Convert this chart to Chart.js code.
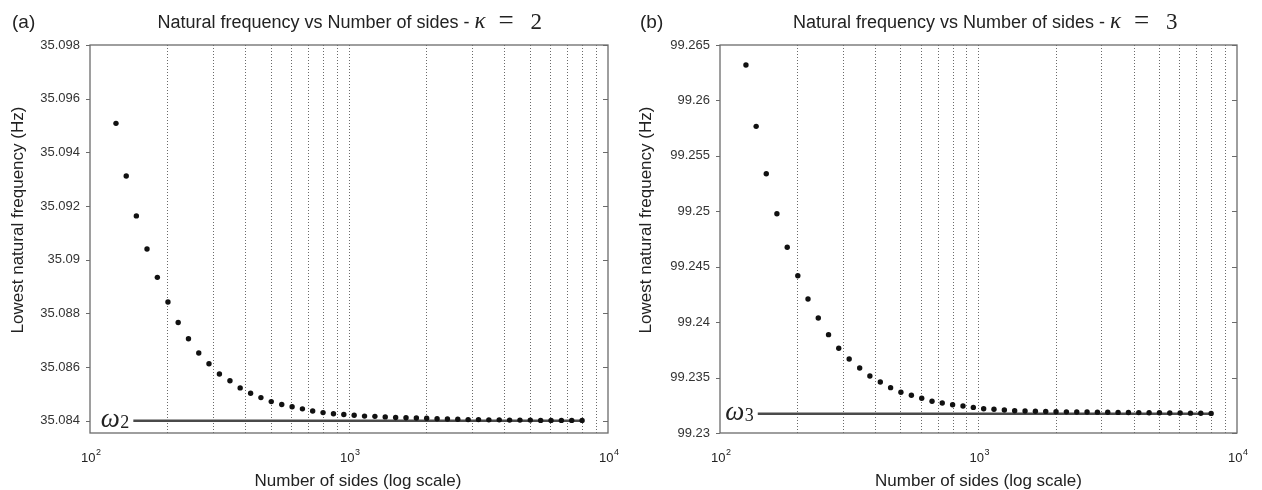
<!DOCTYPE html>
<html>
<head>
<meta charset="utf-8">
<script src="https://cdn.jsdelivr.net/npm/chart.js@4.4.1/dist/chart.umd.min.js"></script>
<style>
  html, body { margin: 0; padding: 0; background: #fff; }
  #wrap { position: relative; width: 1262px; height: 490px; }
  .panel { position: absolute; top: 0; width: 631px; height: 490px; }
</style>
</head>
<body>
<div id="wrap">
  <div class="panel" style="left:0"><canvas id="chartA" width="631" height="490"></canvas></div>
  <div class="panel" style="left:631px"><canvas id="chartB" width="631" height="490"></canvas></div>
</div>
<script>
// number of sides of the polygon (log-spaced runs)
const sides = [126, 138, 151, 166, 182, 200, 219, 240, 263, 288,
  316, 347, 380, 417, 457, 501, 550, 603, 661, 724,
  794, 871, 955, 1047, 1148, 1259, 1380, 1514, 1660, 1820,
  1995, 2188, 2399, 2630, 2884, 3162, 3467, 3802, 4169, 4571,
  5012, 5495, 6026, 6607, 7244, 7943];

// lowest natural frequency (Hz), kappa = 2
const freqK2 = [35.09508, 35.09312, 35.09163, 35.0904, 35.08934, 35.08842, 35.08766, 35.08705, 35.08652, 35.08612,
  35.08574, 35.08549, 35.08522, 35.08502, 35.08486, 35.08471, 35.0846, 35.08452, 35.08444, 35.08436,
  35.0843, 35.08426, 35.08423, 35.0842, 35.08417, 35.08416, 35.08414, 35.08412, 35.08411, 35.0841,
  35.08409, 35.08407, 35.08406, 35.08405, 35.08404, 35.08404, 35.08403, 35.08403, 35.08402, 35.08402,
  35.08402, 35.08401, 35.08401, 35.08401, 35.08401, 35.08401];

// lowest natural frequency (Hz), kappa = 3
const freqK3 = [99.26319, 99.25766, 99.25339, 99.24978, 99.24675, 99.24419, 99.24209, 99.24037, 99.23887, 99.23764,
  99.23668, 99.23586, 99.23514, 99.2346, 99.23409, 99.23367, 99.2334, 99.23313, 99.23286, 99.23271,
  99.23255, 99.23244, 99.23231, 99.23219, 99.23214, 99.23207, 99.23201, 99.23198, 99.23196, 99.23195,
  99.23192, 99.23191, 99.2319, 99.23189, 99.23188, 99.23187, 99.23186, 99.23185, 99.23184, 99.23183,
  99.23182, 99.23181, 99.2318, 99.23179, 99.23178, 99.23177];

// limit values (omega lines) and where each line starts
const omega2 = 35.084;
const omega3 = 99.23174;
const omegaStartK2 = 147;
const omegaStartK3 = 140;

// axis ticks
const xGrid = [100, 200, 300, 400, 500, 600, 700, 800, 900, 1000,
  2000, 3000, 4000, 5000, 6000, 7000, 8000, 9000, 10000];
const xLabelValues = [100, 1000, 10000];
const xLabelExps = ['2', '3', '4'];
const yTicksK2 = [35.084, 35.086, 35.088, 35.09, 35.092, 35.094, 35.096, 35.098];
const yLabelsK2 = ['35.084', '35.086', '35.088', '35.09', '35.092', '35.094', '35.096', '35.098'];
const yTicksK3 = [99.23, 99.235, 99.24, 99.245, 99.25, 99.255, 99.26, 99.265];
const yLabelsK3 = ['99.23', '99.235', '99.24', '99.245', '99.25', '99.255', '99.26', '99.265'];

const SANS = '"Liberation Sans", Arial, Helvetica, sans-serif';
const SERIF = '"Liberation Serif", "Times New Roman", serif';
const INK = '#222';

const panels = [
  { id: 'chartA', letter: '(a)', kappa: '2', omegaSub: '2', values: freqK2, omega: omega2, omegaFrom: omegaStartK2,
    yMin: 35.08354, yMax: 35.098, yTicks: yTicksK2, yLabels: yLabelsK2,
    yAxisWidth: 90, padRight: 23, titleShift: 1, xTitleShift: 9, letterX: 12, yTitleX: 18 },
  { id: 'chartB', letter: '(b)', kappa: '3', omegaSub: '3', values: freqK3, omega: omega3, omegaFrom: omegaStartK3,
    yMin: 99.23, yMax: 99.265, yTicks: yTicksK3, yLabels: yLabelsK3,
    yAxisWidth: 89, padRight: 25, titleShift: 7, xTitleShift: 0, letterX: 9, yTitleX: 15 },
];

// box, tick marks and all the MATLAB-style text
function makeDecor(p) {
  return {
    id: 'decor',
    afterDraw(chart) {
      const { ctx, chartArea: a, scales: { x, y } } = chart;
      ctx.save();

      ctx.strokeStyle = '#6b6b6b';
      ctx.lineWidth = 1.3;
      ctx.strokeRect(a.left, a.top, a.right - a.left, a.bottom - a.top);

      ctx.lineWidth = 1;
      p.yTicks.forEach((v) => {
        const py = Math.round(y.getPixelForValue(v)) + 0.5;
        ctx.beginPath();
        ctx.moveTo(a.left - 4, py); ctx.lineTo(a.left, py);
        ctx.moveTo(a.right - 5, py); ctx.lineTo(a.right, py);
        ctx.stroke();
      });

      ctx.fillStyle = INK;
      ctx.textBaseline = 'alphabetic';
      ctx.textAlign = 'left';
      xLabelValues.forEach((v, i) => {
        const px = x.getPixelForValue(v);
        ctx.font = '13px ' + SANS;
        ctx.fillText('10', px - 9, a.bottom + 29);
        const w = ctx.measureText('10').width;
        ctx.font = '9px ' + SANS;
        ctx.fillText(xLabelExps[i], px - 9 + w + 0.5, a.bottom + 22);
      });

      // x axis title
      ctx.font = '17px ' + SANS;
      ctx.textAlign = 'center';
      ctx.fillText('Number of sides (log scale)', (a.left + a.right) / 2 + p.xTitleShift, a.bottom + 53);

      // panel title with kappa
      ctx.textAlign = 'left';
      ctx.font = '18px ' + SANS;
      const head = 'Natural frequency vs Number of sides - ';
      const headW = ctx.measureText(head).width;
      const tx = (a.left + a.right) / 2 + p.titleShift - (headW + 68) / 2;
      ctx.fillText(head, tx, 28);
      ctx.font = 'italic 23px ' + SERIF;
      ctx.fillText('\u03BA', tx + headW, 28);
      ctx.font = '27px ' + SERIF;
      ctx.fillText('=', tx + headW + 24, 29);
      ctx.font = '23px ' + SERIF;
      ctx.fillText(p.kappa, tx + headW + 56, 29);

      // panel letter
      ctx.font = '19px ' + SANS;
      ctx.fillText(p.letter, p.letterX, 28);

      // y axis title
      ctx.save();
      ctx.translate(p.yTitleX, 220);
      ctx.rotate(-Math.PI / 2);
      ctx.font = '17px ' + SANS;
      ctx.textAlign = 'center';
      ctx.textBaseline = 'middle';
      ctx.fillText('Lowest natural frequency (Hz)', 0, 0);
      ctx.restore();

      // omega label
      const ly = y.getPixelForValue(p.omega);
      const lx = x.getPixelForValue(p.omegaFrom) - 4;
      ctx.textAlign = 'right';
      ctx.font = '18px ' + SERIF;
      ctx.fillText(p.omegaSub, lx, ly + 7);
      const sw = ctx.measureText(p.omegaSub).width;
      ctx.font = 'italic 27px ' + SERIF;
      ctx.fillText('\u03C9', lx - sw - 0.5, ly + 6);

      ctx.restore();
    },
  };
}

panels.forEach((p) => {
  const points = sides.map((n, i) => ({ x: n, y: p.values[i] }));
  const limit = [{ x: p.omegaFrom, y: p.omega }, { x: sides[sides.length - 1], y: p.omega }];

  new Chart(document.getElementById(p.id), {
    type: 'scatter',
    data: {
      datasets: [
        { data: points, pointRadius: 2.7, pointBackgroundColor: '#111', pointBorderWidth: 0, order: 0 },
        { data: limit, showLine: true, borderColor: '#4a4a4a', borderWidth: 2.5, pointRadius: 0, order: 1 },
      ],
    },
    options: {
      responsive: false,
      animation: false,
      devicePixelRatio: 1,
      layout: { padding: { left: 0, right: p.padRight, top: 45, bottom: 0 } },
      plugins: { legend: { display: false }, tooltip: { enabled: false } },
      scales: {
        x: {
          type: 'logarithmic',
          min: 100,
          max: 10000,
          afterBuildTicks: (s) => { s.ticks = xGrid.map((v) => ({ value: v })); },
          afterFit: (s) => { s.height = 57; },
          ticks: { display: false },
          grid: {
            drawTicks: false,
            lineWidth: 1,
            color: (c) => (c.tick && (c.tick.value === 100 || c.tick.value === 10000)) ? 'rgba(0,0,0,0)' : '#6a6a6a',
          },
          border: { display: false, dash: [1, 2] },
        },
        y: {
          type: 'linear',
          min: p.yMin,
          max: p.yMax,
          afterBuildTicks: (s) => { s.ticks = p.yTicks.map((v) => ({ value: v })); },
          afterFit: (s) => { s.width = p.yAxisWidth; },
          ticks: {
            callback: (v, i) => p.yLabels[i],
            padding: 10,
            color: '#333',
            font: { family: SANS, size: 13 },
          },
          grid: { display: false, drawTicks: false },
          border: { display: false },
        },
      },
    },
    plugins: [makeDecor(p)],
  });
});
</script>
</body>
</html>
